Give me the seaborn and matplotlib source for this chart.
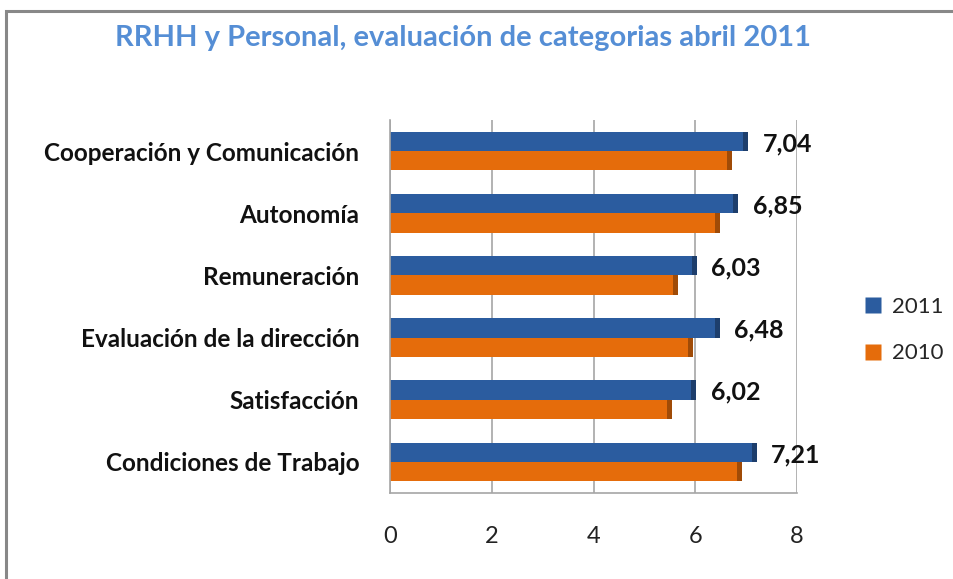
import pandas as pd
import seaborn as sns
import matplotlib.pyplot as plt
from matplotlib.patches import Rectangle
from matplotlib.lines import Line2D

# Chart data
categorias = ['Cooperación y Comunicación', 'Autonomía', 'Remuneración',
              'Evaluación de la dirección', 'Satisfacción', 'Condiciones de Trabajo']
valores_2011 = [7.04, 6.85, 6.03, 6.48, 6.02, 7.21]
valores_2010 = [6.72, 6.48, 5.66, 5.95, 5.54, 6.92]
etiquetas_2011 = ['7,04', '6,85', '6,03', '6,48', '6,02', '7,21']
series = ['2011', '2010']
ticks_x = [0, 2, 4, 6, 8]

colores = {'2011': '#2B5C9F', '2010': '#E56C0B'}
colores_borde = {'#2B5C9F': '#1D3E6C', '#E56C0B': '#A04B07'}

df = pd.DataFrame({
    'categoria': categorias * 2,
    'valor': valores_2011 + valores_2010,
    'serie': ['2011'] * len(categorias) + ['2010'] * len(categorias),
})

sns.set_style('white')
plt.rcParams['font.family'] = ['Lato', 'DejaVu Sans']

fig = plt.figure(figsize=(9.54, 5.79), dpi=100)
ax = fig.add_axes([390 / 954, 1 - 493 / 579, 407 / 954, 373 / 579])

sns.barplot(data=df, y='categoria', x='valor', hue='serie', hue_order=series,
            orient='h', palette=colores, width=0.62, saturation=1, ax=ax,
            legend=False, edgecolor='none')

# darker end caps for a light 3D look
for p in list(ax.patches):
    if p.get_width() <= 0:
        continue
    fc = '#%02X%02X%02X' % tuple(int(round(c * 255)) for c in p.get_facecolor()[:3])
    cap = Rectangle((p.get_x() + p.get_width() - 0.1, p.get_y()), 0.1, p.get_height(),
                    facecolor=colores_borde.get(fc, '#333333'), edgecolor='none', zorder=p.get_zorder() + 0.1)
    ax.add_patch(cap)

ax.set_xlim(0, 8)
ax.set_ylim(5.5, -0.5)
ax.set_xticks(ticks_x)
ax.set_xlabel('')
ax.set_ylabel('')
ax.xaxis.grid(True, color='#A6A6A6', linewidth=1.2)
ax.set_axisbelow(True)
for s in ['top', 'right']:
    ax.spines[s].set_visible(False)
ax.spines['left'].set_color('#A6A6A6')
ax.spines['bottom'].set_color('#A6A6A6')
ax.spines['left'].set_linewidth(1.2)
ax.spines['bottom'].set_linewidth(1.2)
ax.tick_params(axis='x', length=0, pad=24, labelsize=17, labelcolor='#222222')
ax.tick_params(axis='y', length=0, pad=22, labelsize=17.5, labelcolor='#111111')
for lab in ax.get_yticklabels():
    lab.set_fontweight('bold')

# data labels for 2011
for i, (v, t) in enumerate(zip(valores_2011, etiquetas_2011)):
    ax.text(v + 0.28, i - 0.12, t, va='center', ha='left',
            fontsize=18, fontweight='bold', color='#111111')

fig.text(463 / 954, 1 - 38 / 579, 'RRHH y Personal, evaluación de categorias abril 2011',
         ha='center', va='center', fontsize=21, fontweight='bold', color='#558ED5')

handles = [Line2D([], [], marker='s', linestyle='none', markersize=11,
                  markerfacecolor=colores[s], markeredgecolor='none') for s in series]
fig.legend(handles, series, loc='center left', bbox_to_anchor=(842 / 954, 1 - 330 / 579),
           frameon=False, fontsize=16, handletextpad=0.35, labelspacing=1.2,
           handlelength=1.0)

# outer chart frame
fig.patches.append(Rectangle((6 / 954, -0.05), 1.2, 1 - 11 / 579 + 0.05,
                             transform=fig.transFigure, fill=False,
                             edgecolor='#888888', linewidth=2.2))

fig.savefig('out.png', dpi=100)
